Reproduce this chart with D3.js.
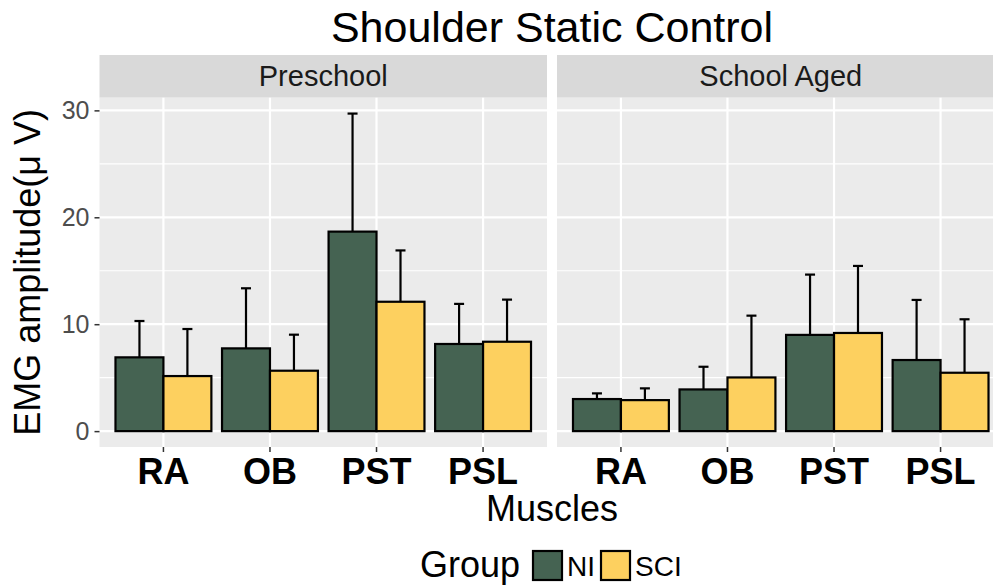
<!DOCTYPE html>
<html>
<head>
    <meta charset="utf-8">
    <title>Shoulder Static Control</title>
    <script src="https://d3js.org/d3.v7.min.js"></script>
    <style>
        html, body {
            margin: 0;
            background: #fff;
        }
        text {
            font-family: "Liberation Sans", Arial, Helvetica, sans-serif;
        }
    </style>
</head>
<body>
    <svg id="svg"></svg>
    <script>
        // data
        const facets = ["Preschool", "School Aged"];
        const muscles = ["RA", "OB", "PST", "PSL"];
        const groups = ["NI", "SCI"];

        const preNiMean = [6.9, 7.74, 18.66, 8.15];
        const preNiSd = [3.4, 5.62, 11.04, 3.75];
        const preSciMean = [5.15, 5.65, 12.1, 8.36];
        const preSciSd = [4.4, 3.37, 4.8, 3.94];

        const schNiMean = [3.0, 3.9, 9.0, 6.65];
        const schNiSd = [0.53, 2.12, 5.64, 5.62];
        const schSciMean = [2.9, 5.02, 9.18, 5.46];
        const schSciSd = [1.1, 5.78, 6.27, 5.0];

        const yTicks = [0, 10, 20, 30];
        const yMinor = [5, 15, 25];

        const colors = {NI: "#456352", SCI: "#FDD05F"};

        const rows = [];
        muscles.forEach((m, i) => {
            rows.push({facet: facets[0], muscle: m, group: "NI", mean: preNiMean[i], sd: preNiSd[i]});
            rows.push({facet: facets[0], muscle: m, group: "SCI", mean: preSciMean[i], sd: preSciSd[i]});
            rows.push({facet: facets[1], muscle: m, group: "NI", mean: schNiMean[i], sd: schNiSd[i]});
            rows.push({facet: facets[1], muscle: m, group: "SCI", mean: schSciMean[i], sd: schSciSd[i]});
        });

        const width = 993, height = 586;
        const panelLeft = 99.5, panelW = 447.5, panelGap = 10;
        const stripTop = 55, stripH = 42.7;
        const panelTop = stripTop + stripH, panelBottom = 447;

        const svg = d3.select("#svg")
        .attr("width", width)
        .attr("height", height);

        // ggplot style 5% expansion
        const yMax = d3.max(rows, d => d.mean + d.sd);
        const pad = yMax * 0.05;
        const y = d3.scaleLinear()
        .domain([-pad, yMax + pad])
        .range([panelBottom, panelTop]);

        const x = d3.scaleBand()
        .domain(muscles)
        .range([0, panelW])
        .paddingInner(0.1)
        .paddingOuter(0.15);

        const xg = d3.scaleBand()
        .domain(groups)
        .range([0, x.bandwidth()]);

        svg.append("defs").append("clipPath")
        .attr("id", "clip")
        .append("rect")
        .attr("x", 0).attr("y", 0)
        .attr("width", width).attr("height", height);

        facets.forEach((f, fi) => {
            const left = panelLeft + fi * (panelW + panelGap);
            const g = svg.append("g")
            .attr("transform", `translate(${left},0)`);

            // strip
            g.append("rect")
            .attr("x", 0).attr("y", stripTop)
            .attr("width", panelW).attr("height", stripH)
            .attr("fill", "#D9D9D9");

            g.append("text")
            .attr("x", panelW / 2)
            .attr("y", stripTop + stripH / 2 + 10)
            .attr("text-anchor", "middle")
            .attr("font-size", 29)
            .attr("fill", "#1A1A1A")
            .text(f);

            // panel background
            g.append("rect")
            .attr("x", 0).attr("y", panelTop)
            .attr("width", panelW).attr("height", panelBottom - panelTop)
            .attr("fill", "#EBEBEB");

            g.selectAll(".minor")
            .data(yMinor)
            .enter()
            .append("line")
            .attr("x1", 0).attr("x2", panelW)
            .attr("y1", d => y(d)).attr("y2", d => y(d))
            .attr("stroke", "#fff")
            .attr("stroke-width", 1.1);

            g.selectAll(".major")
            .data(yTicks)
            .enter()
            .append("line")
            .attr("x1", 0).attr("x2", panelW)
            .attr("y1", d => y(d)).attr("y2", d => y(d))
            .attr("stroke", "#fff")
            .attr("stroke-width", 2.2);

            g.selectAll(".vgrid")
            .data(muscles)
            .enter()
            .append("line")
            .attr("x1", d => x(d) + x.bandwidth() / 2)
            .attr("x2", d => x(d) + x.bandwidth() / 2)
            .attr("y1", panelTop).attr("y2", panelBottom)
            .attr("stroke", "#fff")
            .attr("stroke-width", 2.2);

            const data = rows.filter(d => d.facet === f);

            // error bars (upper half only visible above bars)
            const eb = g.selectAll(".err")
            .data(data)
            .enter()
            .append("g");

            const cx = d => x(d.muscle) + xg(d.group) + xg.bandwidth() / 2;

            eb.append("line")
            .attr("x1", cx).attr("x2", cx)
            .attr("y1", d => y(d.mean)).attr("y2", d => y(d.mean + d.sd))
            .attr("stroke", "#000")
            .attr("stroke-width", 2.2);

            eb.append("line")
            .attr("x1", d => cx(d) - 5).attr("x2", d => cx(d) + 5)
            .attr("y1", d => y(d.mean + d.sd)).attr("y2", d => y(d.mean + d.sd))
            .attr("stroke", "#000")
            .attr("stroke-width", 2.2);

            g.selectAll(".bar")
            .data(data)
            .enter()
            .append("rect")
            .attr("x", d => x(d.muscle) + xg(d.group))
            .attr("y", d => y(d.mean))
            .attr("width", xg.bandwidth())
            .attr("height", d => y(0) - y(d.mean))
            .attr("fill", d => colors[d.group])
            .attr("stroke", "#000")
            .attr("stroke-width", 2.2);

            // x axis
            const xAxis = g.append("g")
            .attr("transform", `translate(0,${panelBottom})`)
            .call(d3.axisBottom(x).tickSize(5).tickPadding(6));
            xAxis.select(".domain").remove();
            xAxis.selectAll(".tick line").attr("stroke", "#333").attr("stroke-width", 1.5);
            xAxis.selectAll(".tick text")
            .attr("font-size", 36)
            .attr("font-weight", "bold")
            .attr("fill", "#000")
            .attr("font-family", "Liberation Sans, Arial, sans-serif");
        });

        // y axis
        const yAxis = svg.append("g")
        .attr("transform", `translate(${panelLeft},0)`)
        .call(d3.axisLeft(y).tickValues(yTicks).tickSize(5).tickPadding(5));
        yAxis.select(".domain").remove();
        yAxis.selectAll(".tick line").attr("stroke", "#333").attr("stroke-width", 1.5);
        yAxis.selectAll(".tick text")
        .attr("font-size", 25)
        .attr("fill", "#4D4D4D")
        .attr("font-family", "Liberation Sans, Arial, sans-serif");

        const plotCenter = panelLeft + panelW + panelGap / 2;

        // title
        svg.append("text")
        .attr("x", plotCenter)
        .attr("y", 42)
        .attr("text-anchor", "middle")
        .attr("font-size", 43)
        .attr("fill", "#000")
        .text("Shoulder Static Control");

        svg.append("text")
        .attr("x", plotCenter)
        .attr("y", 521)
        .attr("text-anchor", "middle")
        .attr("font-size", 36)
        .attr("fill", "#000")
        .text("Muscles");

        svg.append("text")
        .attr("transform", `translate(40,${(panelTop + panelBottom) / 2}) rotate(-90)`)
        .attr("text-anchor", "middle")
        .attr("font-size", 36)
        .attr("fill", "#000")
        .text("EMG amplitude(\u03bc V)");

        // legend
        const legend = svg.append("g")
        .attr("transform", "translate(420,0)");

        legend.append("text")
        .attr("x", 0).attr("y", 577)
        .attr("font-size", 36)
        .attr("fill", "#000")
        .text("Group");

        const keys = legend.selectAll(".key")
        .data(groups)
        .enter()
        .append("g")
        .attr("transform", (d, i) => `translate(${113 + i * 68},0)`);

        keys.append("rect")
        .attr("x", 0).attr("y", 551)
        .attr("width", 29).attr("height", 29)
        .attr("fill", d => colors[d])
        .attr("stroke", "#000")
        .attr("stroke-width", 2.2);

        keys.append("text")
        .attr("x", 34).attr("y", 576)
        .attr("font-size", 28)
        .attr("fill", "#000")
        .text(d => d);
    </script>
</body>
</html>
